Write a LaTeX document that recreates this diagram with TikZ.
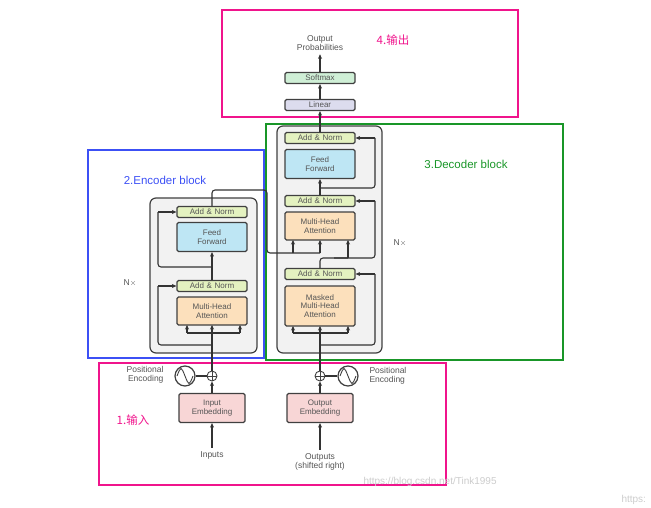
\documentclass[tikz,border=0pt]{standalone}
\usepackage{fontspec}
\setmainfont{Liberation Sans}
\newfontfamily\cjk{Noto Sans CJK SC}
\usetikzlibrary{arrows.meta}
\definecolor{an}{HTML}{E4F2C0}
\definecolor{ff}{HTML}{BEE6F4}
\definecolor{mh}{HTML}{FCE0BC}
\definecolor{em}{HTML}{F8D6D6}
\definecolor{sm}{HTML}{CFEFD6}
\definecolor{li}{HTML}{DCDCEE}
\definecolor{txt}{HTML}{555555}
\definecolor{mag}{HTML}{F0148C}
\definecolor{blu}{HTML}{3C50F5}
\definecolor{grn}{HTML}{199628}
\begin{document}
\begin{tikzpicture}[x=1pt,y=-1pt,
  blk/.style={draw=black!75,line width=1.2pt,rounded corners=1.5pt,align=center,inner sep=0pt,text=txt,font=\fontsize{8}{8.5}\selectfont,text width=#1},
  blk/.default=70pt,
  ar/.style={-{Stealth[length=4.5pt,width=4pt]},line width=1.1pt,black!80},
  ln/.style={line width=1.1pt,black!80,rounded corners=3pt},
  lab/.style={text=txt,font=\fontsize{8.5}{9.5}\selectfont,align=center}]
\useasboundingbox (0,0) rectangle (651,508);
% frames
\draw[mag,line width=1.5pt] (222,10) rectangle (518,117);
\draw[blu,line width=1.5pt] (88,150) rectangle (264,358);
\draw[grn,line width=1.5pt] (266,124) rectangle (563,360);
\draw[mag,line width=1.5pt] (99,363) rectangle (446,485);
\node[mag,font=\cjk\fontsize{11.5}{12}\selectfont] at (393,40) {4.输出};
\node[blu,font=\fontsize{11.5}{12}\selectfont] at (165,180) {2.Encoder block};
\node[grn,font=\fontsize{11.5}{12}\selectfont] at (466,164) {3.Decoder block};
\node[mag,font=\cjk\fontsize{11.5}{12}\selectfont] at (133,420) {1.输入};
% gray blocks
\draw[black!75,fill=black!5,line width=1.2pt,rounded corners=6pt] (150,198) rectangle (257,353);
\draw[black!75,fill=black!5,line width=1.2pt,rounded corners=6pt] (277,126) rectangle (382,353);
% encoder
\node[blk,fill=an,minimum height=11pt] (ea2) at (212,212) {Add \& Norm};
\node[blk,fill=ff,minimum height=29pt] (eff) at (212,237) {Feed\\Forward};
\node[blk,fill=an,minimum height=11pt] (ea1) at (212,286) {Add \& Norm};
\node[blk,fill=mh,minimum height=28pt] (emh) at (212,311) {Multi-Head\\Attention};
\node[lab] (enx) at (130,283) {N$\times$};
% decoder
\node[blk,fill=an,minimum height=11pt] (da3) at (320,138) {Add \& Norm};
\node[blk,fill=ff,minimum height=29pt] (dff) at (320,164) {Feed\\Forward};
\node[blk,fill=an,minimum height=11pt] (da2) at (320,201) {Add \& Norm};
\node[blk,fill=mh,minimum height=28pt] (dmh) at (320,226) {Multi-Head\\Attention};
\node[blk,fill=an,minimum height=11pt] (da1) at (320,274) {Add \& Norm};
\node[blk,fill=mh,minimum height=40pt] (dmm) at (320,306) {Masked\\Multi-Head\\Attention};
\node[lab] (dnx) at (400,243) {N$\times$};
% top
\node[blk,fill=li,minimum height=11pt] (lin) at (320,105) {Linear};
\node[blk,fill=sm,minimum height=11pt] (smx) at (320,78) {Softmax};
\node[lab] (op) at (320,43) {Output\\Probabilities};
\draw[ar] (da3.north) -- (lin.south);
\draw[ar] (lin.north) -- (smx.south);
\draw[ar] (smx.north) -- (op.south);
% bottom
\node[blk=66pt,fill=em,minimum height=29pt] (iem) at (212,408) {Input\\Embedding};
\node[blk=66pt,fill=em,minimum height=29pt] (oem) at (320,408) {Output\\Embedding};
\node[draw=black!75,line width=0.9pt,circle,inner sep=0pt,minimum size=10pt] (ep) at (212,376) {};
\draw[black!75,line width=0.8pt] (207,376)--(217,376) (212,371)--(212,381);
\node[draw=black!75,line width=0.9pt,circle,inner sep=0pt,minimum size=10pt] (dp) at (320,376) {};
\draw[black!75,line width=0.8pt] (315,376)--(325,376) (320,371)--(320,381);
\node[draw=black!75,line width=1.2pt,circle,minimum size=20pt,inner sep=0pt] (es) at (185,376) {};
\node[draw=black!75,line width=1.2pt,circle,minimum size=20pt,inner sep=0pt] (ds) at (348,376) {};
\draw[black!75,line width=0.9pt] (177,376) .. controls (181,366) .. (185,376) .. controls (189,386) .. (193,376);
\draw[black!75,line width=0.9pt] (340,376) .. controls (344,366) .. (348,376) .. controls (352,386) .. (356,376);
\draw[ln] (es) -- (ep); \draw[ln] (ds) -- (dp);
\node[lab,align=right,anchor=east] (epl) at (167,375) {Positional\\Encoding};
\node[lab,align=left,anchor=west] (dpl) at (366,376) {Positional\\Encoding};
\node[lab] (inp) at (212,455) {Inputs};
\node[lab] (outp) at (320,462) {Outputs\\(shifted right)};
\draw[ar] (inp.north) -- (iem.south);
\draw[ar] (outp.north) -- (oem.south);
\draw[ar] (iem.north) -- (ep.south);
\draw[ar] (oem.north) -- (dp.south);
% encoder internal
\draw[ln] (ep.north) -- (212,333);
\draw[ln] (187,333) -- (240,333);
\draw[ar] (187,333) -- (187,325);
\draw[ar] (212,333) -- (212,325);
\draw[ar] (240,333) -- (240,325);
\draw[ln] (212,345) -- (158,345) -- (158,286);
\draw[ar] (158,286) -- (ea1.west);
\draw[ar] (ea1.north) -- (eff.south);
\draw[ln] (212,267) -- (158,267) -- (158,212);
\draw[ar] (158,212) -- (ea2.west);
% encoder output to decoder
\draw[ln] (ea2.north) -- (212,190) -- (267,190) -- (267,253) -- (320,253);
\draw[ar] (293,253) -- (293,240);
\draw[ar] (320,253) -- (320,240);
% decoder internal
\draw[ln] (dp.north) -- (320,333);
\draw[ln] (293,333) -- (348,333);
\draw[ar] (293,333) -- (293,326);
\draw[ar] (320,333) -- (320,326);
\draw[ar] (348,333) -- (348,326);
\draw[ln] (320,345) -- (375,345) -- (375,274);
\draw[ar] (375,274) -- (da1.east);
\draw[ln] (da1.north) -- (320,258) -- (348,258);
\draw[ar] (348,258) -- (348,240);
\draw[ln] (334,258) -- (375,258) -- (375,201);
\draw[ar] (375,201) -- (da2.east);
\draw[ar] (da2.north) -- (dff.south);
\draw[ln] (320,188) -- (375,188) -- (375,138);
\draw[ar] (375,138) -- (da3.east);
% watermark
\node[black!20,font=\fontsize{10}{11}\selectfont,anchor=west] (wm) at (360,482) {https://blog.csdn.net/Tink1995};
\node[black!20,font=\fontsize{10}{11}\selectfont,anchor=west] (wm2) at (618,500) {https:};
\end{tikzpicture}
\end{document}
